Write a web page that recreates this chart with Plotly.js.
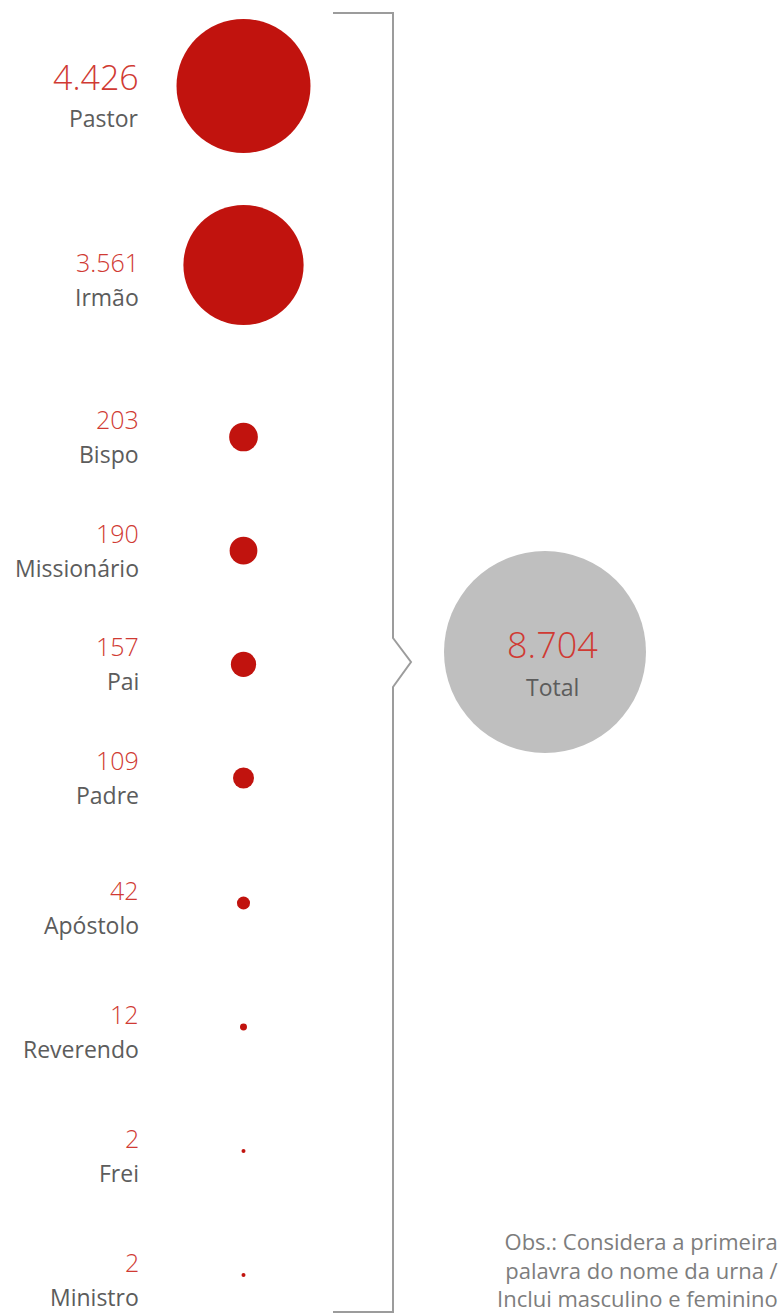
<!DOCTYPE html>
<html>
<head>
<meta charset="utf-8">
<script src="https://cdn.plot.ly/plotly-3.0.1.min.js"></script>
<style>
  html, body { margin: 0; padding: 0; background: #ffffff; }
  #chart { width: 782px; height: 1314px; }
</style>
</head>
<body>
<div id="chart"></div>
<script>
// ---------- data ----------
const categories = ["Pastor", "Irmão", "Bispo", "Missionário", "Pai", "Padre", "Apóstolo", "Reverendo", "Frei", "Ministro"];
const counts = [4426, 3561, 203, 190, 157, 109, 42, 12, 2, 2];
const totalLabel = "Total";
const totalCount = 8704;
const note = "Obs.: Considera a primeira<br>palavra do nome da urna /<br>Inclui masculino e feminino";

// ---------- layout helpers ----------
const W = 782, H = 1314, ML = 143;
function fmt(n) { return String(n).replace(/\B(?=(\d{3})+(?!\d))/g, "."); }
const RED_TXT = "#d03a33";
const GRAY_TXT = "#5c5c5c";
const DOT = "#c1130e";
const px = x => (x - ML) / (W - ML);
const py = y => 1 - y / H;
const colName = "Termos";
const redSizeRef = 2 * counts[0] / (134 * 134);

// vertical bands (pixel layout): [first index, count, band top, band bottom, first row px, row step px, label shift]
const bands = [
  [0, 2, 0, 354, 86, 179, -15],
  [2, 4, 354, 840, 437, 113.67, 0],
  [6, 4, 840, H, 903, 124, -5]
];

const traces = [];
const annotations = [];
const layout = {
  width: W, height: H,
  margin: { l: ML, r: 0, t: 0, b: 0, pad: 0 },
  paper_bgcolor: "#ffffff", plot_bgcolor: "rgba(0,0,0,0)",
  showlegend: false
};
const baseAxis = { showgrid: false, zeroline: false, showline: false, ticks: "", showticklabels: false, fixedrange: true };

layout.xaxis = Object.assign({}, baseAxis, {
  type: "category", categoryorder: "array", categoryarray: [colName, totalLabel],
  range: [(ML - 243.5) / 301.5, 1 + (W - 545) / 301.5], domain: [0, 1]
});

bands.forEach((b, k) => {
  const [i0, n, top, bot, first, step, shift] = b;
  const cats = categories.slice(i0, i0 + n);
  const vals = counts.slice(i0, i0 + n);
  const yid = k === 0 ? "y" : "y" + (k + 1);
  const yname = k === 0 ? "yaxis" : "yaxis" + (k + 1);
  layout[yname] = Object.assign({}, baseAxis, {
    type: "category", categoryorder: "array", categoryarray: cats,
    domain: [py(bot), py(top)],
    range: [(n - 1) + (bot - (first + (n - 1) * step)) / step, (top - first) / step],
    anchor: "x"
  });
  traces.push({
    type: "scatter", mode: "markers", xaxis: "x", yaxis: yid,
    x: cats.map(() => colName), y: cats,
    marker: { size: vals, sizemode: "area", sizeref: redSizeRef, sizemin: 2, color: DOT, opacity: 1, line: { width: 0 } },
    hoverinfo: "skip"
  });
  cats.forEach((c, i) => {
    const common = { xref: "paper", x: px(140), xanchor: "right", yref: yid, y: c, yshift: shift,
                     showarrow: false, align: "right", borderpad: 0 };
    annotations.push(Object.assign({}, common, {
      text: fmt(vals[i]), yanchor: "bottom",
      font: { family: "Open Sans", size: (i0 + i) === 0 ? 34 : 25, color: RED_TXT, weight: 300 }
    }));
    annotations.push(Object.assign({}, common, {
      text: c, yanchor: "top",
      font: { family: "Open Sans", size: 23, color: GRAY_TXT, weight: 400 }
    }));
  });
});

// total circle
const totAxis = "yaxis" + (bands.length + 1);
const totId = "y" + (bands.length + 1);
layout[totAxis] = Object.assign({}, baseAxis, {
  type: "category", categoryarray: [totalLabel],
  domain: [0, 1], range: [1 - 652 / H, -652 / H], anchor: "x"
});
traces.push({
  type: "scatter", mode: "markers", xaxis: "x", yaxis: totId,
  x: [totalLabel], y: [totalLabel],
  marker: { size: [totalCount], sizemode: "area", sizeref: 2 * totalCount / (202 * 202), color: "#bfbfbf", opacity: 1, line: { width: 0 } },
  hoverinfo: "skip"
});
annotations.push({ xref: "x", x: totalLabel, yref: totId, y: totalLabel, xshift: 7, yshift: -18, yanchor: "bottom", borderpad: 0,
  text: fmt(totalCount), showarrow: false, font: { family: "Open Sans", size: 36, color: RED_TXT, weight: 300 } });
annotations.push({ xref: "x", x: totalLabel, yref: totId, y: totalLabel, xshift: 7, yshift: -18, yanchor: "top", borderpad: 0,
  text: totalLabel, showarrow: false, font: { family: "Open Sans", size: 23, color: GRAY_TXT, weight: 400 } });

// footnote
annotations.push({
  xref: "paper", yref: "paper", x: 1, y: 0, xanchor: "right", yanchor: "bottom",
  xshift: -3, yshift: 0, borderpad: 0,
  text: note, showarrow: false, align: "right",
  font: { family: "Open Sans", size: 22, color: "#7d7d7d" }
});

layout.annotations = annotations;
layout.shapes = [
  {
    type: "path", xref: "paper", yref: "paper",
    path: "M " + px(333) + "," + py(13) +
          " L " + px(393) + "," + py(13) +
          " L " + px(393) + "," + py(638) +
          " L " + px(411) + "," + py(662) +
          " L " + px(393) + "," + py(687) +
          " L " + px(393) + "," + py(1312) +
          " L " + px(333) + "," + py(1312),
    line: { color: "#9c9c9c", width: 2 }, fillcolor: "rgba(0,0,0,0)"
  }
];

Plotly.newPlot("chart", traces, layout, { staticPlot: true, displayModeBar: false });
</script>
</body>
</html>
